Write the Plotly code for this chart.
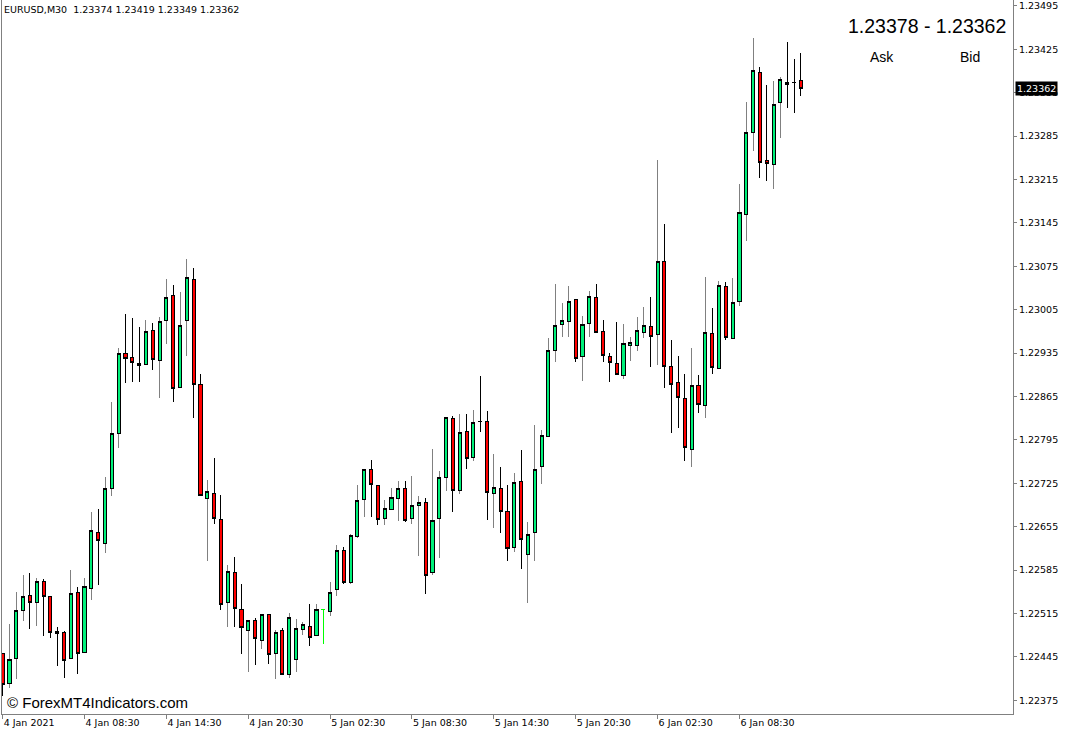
import plotly.graph_objects as go

symbol = "EURUSD,M30"
ask_price = 1.23378

open_ = [1.22450, 1.22402, 1.22443, 1.22520, 1.22544, 1.22533, 1.22567, 1.22542, 1.22486, 1.22484,
         1.22442, 1.22549, 1.22452, 1.22556, 1.22646, 1.22628, 1.22716, 1.22806, 1.22935, 1.22928,
         1.22919, 1.22916, 1.22972, 1.22923, 1.22987, 1.23028, 1.22880, 1.22987, 1.23054, 1.22885,
         1.22701, 1.22708, 1.22667, 1.22532, 1.22581, 1.22521, 1.22487, 1.22503, 1.22472, 1.22513,
         1.22451, 1.22488, 1.22417, 1.22441, 1.22490, 1.22494, 1.22479, 1.22521, 1.22518, 1.22553,
         1.22617, 1.22565, 1.22639, 1.22699, 1.22748, 1.22722, 1.22668, 1.22683, 1.22701, 1.22716,
         1.22668, 1.22690, 1.22694, 1.22581, 1.22668, 1.22734, 1.22829, 1.22714, 1.22809, 1.22766,
         1.22825, 1.22824, 1.22708, 1.22717, 1.22679, 1.22621, 1.22728, 1.22610, 1.22645, 1.22752,
         1.22800, 1.22939, 1.22981, 1.22986, 1.23022, 1.22929, 1.22983, 1.23025, 1.22970, 1.22930,
         1.22919, 1.22899, 1.22947, 1.22948, 1.22969, 1.22978, 1.22965, 1.23082, 1.22914, 1.22887,
         1.22862, 1.22780, 1.22882, 1.22850, 1.22966, 1.22910, 1.23042, 1.22958, 1.23019, 1.23158,
         1.23291, 1.23387, 1.23245, 1.23239, 1.23339, 1.23371, 1.23372, 1.23374]
high = [1.22452, 1.22498, 1.22550, 1.22577, 1.22580, 1.22572, 1.22571, 1.22544, 1.22494, 1.22486,
        1.22585, 1.22558, 1.22573, 1.22678, 1.22684, 1.22735, 1.22856, 1.22944, 1.22998, 1.22992,
        1.22977, 1.22988, 1.22984, 1.22993, 1.23054, 1.23045, 1.23034, 1.23086, 1.23073, 1.22901,
        1.22730, 1.22766, 1.22706, 1.22594, 1.22606, 1.22563, 1.22505, 1.22507, 1.22515, 1.22515,
        1.22488, 1.22492, 1.22516, 1.22506, 1.22502, 1.22530, 1.22531, 1.22523, 1.22566, 1.22625,
        1.22622, 1.22644, 1.22722, 1.22748, 1.22763, 1.22723, 1.22698, 1.22718, 1.22728, 1.22729,
        1.22737, 1.22705, 1.22701, 1.22781, 1.22745, 1.22832, 1.22833, 1.22836, 1.22836, 1.22844,
        1.22898, 1.22842, 1.22772, 1.22752, 1.22723, 1.22742, 1.22779, 1.22662, 1.22819, 1.22811,
        1.22960, 1.23046, 1.23015, 1.23043, 1.23023, 1.22995, 1.23035, 1.23046, 1.22988, 1.22935,
        1.22985, 1.22982, 1.22961, 1.22993, 1.23009, 1.23026, 1.23246, 1.23144, 1.22956, 1.22930,
        1.22902, 1.22943, 1.22900, 1.23058, 1.23008, 1.23052, 1.23050, 1.23056, 1.23208, 1.23340,
        1.23444, 1.23396, 1.23367, 1.23374, 1.23381, 1.23437, 1.23409, 1.23419]
low = [1.22382, 1.22395, 1.22410, 1.22503, 1.22490, 1.22495, 1.22479, 1.22475, 1.22431, 1.22411,
       1.22441, 1.22417, 1.22451, 1.22536, 1.22561, 1.22612, 1.22705, 1.22782, 1.22886, 1.22889,
       1.22889, 1.22915, 1.22907, 1.22863, 1.22949, 1.22856, 1.22879, 1.22930, 1.22830, 1.22704,
       1.22600, 1.22659, 1.22520, 1.22494, 1.22493, 1.22449, 1.22420, 1.22432, 1.22458, 1.22434,
       1.22409, 1.22416, 1.22411, 1.22421, 1.22480, 1.22463, 1.22478, 1.22466, 1.22511, 1.22544,
       1.22562, 1.22563, 1.22636, 1.22671, 1.22670, 1.22657, 1.22657, 1.22682, 1.22665, 1.22663,
       1.22660, 1.22608, 1.22546, 1.22577, 1.22605, 1.22713, 1.22679, 1.22707, 1.22748, 1.22761,
       1.22807, 1.22666, 1.22653, 1.22645, 1.22599, 1.22614, 1.22586, 1.22532, 1.22599, 1.22724,
       1.22799, 1.22920, 1.22961, 1.22961, 1.22920, 1.22890, 1.22961, 1.22968, 1.22920, 1.22889,
       1.22900, 1.22893, 1.22922, 1.22939, 1.22959, 1.22913, 1.22915, 1.22878, 1.22806, 1.22814,
       1.22761, 1.22752, 1.22838, 1.22830, 1.22901, 1.22909, 1.22956, 1.22957, 1.23011, 1.23115,
       1.23261, 1.23218, 1.23213, 1.23199, 1.23282, 1.23331, 1.23323, 1.23349]
close = [1.22401, 1.22441, 1.22520, 1.22543, 1.22533, 1.22567, 1.22543, 1.22484, 1.22482, 1.22440,
         1.22548, 1.22451, 1.22558, 1.22649, 1.22632, 1.22717, 1.22806, 1.22934, 1.22926, 1.22920,
         1.22915, 1.22970, 1.22925, 1.22986, 1.23024, 1.22878, 1.22980, 1.23057, 1.22884, 1.22705,
         1.22711, 1.22668, 1.22530, 1.22583, 1.22523, 1.22492, 1.22504, 1.22474, 1.22513, 1.22449,
         1.22485, 1.22417, 1.22509, 1.22491, 1.22497, 1.22476, 1.22521, 1.22521, 1.22549, 1.22616,
         1.22565, 1.22641, 1.22697, 1.22747, 1.22723, 1.22666, 1.22684, 1.22702, 1.22716, 1.22665,
         1.22690, 1.22694, 1.22577, 1.22665, 1.22735, 1.22831, 1.22714, 1.22807, 1.22765, 1.22823,
         1.22824, 1.22710, 1.22719, 1.22679, 1.22620, 1.22727, 1.22635, 1.22643, 1.22748, 1.22802,
         1.22939, 1.22980, 1.22987, 1.23019, 1.22927, 1.22981, 1.23027, 1.22969, 1.22931, 1.22920,
         1.22901, 1.22951, 1.22952, 1.22971, 1.22980, 1.22962, 1.23082, 1.22913, 1.22885, 1.22863,
         1.22783, 1.22882, 1.22852, 1.22968, 1.22911, 1.23044, 1.22960, 1.23016, 1.23162, 1.23290,
         1.23390, 1.23243, 1.23240, 1.23336, 1.23377, 1.23368, 1.23371, 1.23362]

time_label_bars = [0, 12, 24, 36, 48, 60, 72, 84, 96, 108]
time_labels = ["4 Jan 2021", "4 Jan 08:30", "4 Jan 14:30", "4 Jan 20:30", "5 Jan 02:30",
               "5 Jan 08:30", "5 Jan 14:30", "5 Jan 20:30", "6 Jan 02:30", "6 Jan 08:30"]
price_ticks = [1.22375, 1.22445, 1.22515, 1.22585, 1.22655, 1.22725, 1.22795, 1.22865, 1.22935,
               1.23005, 1.23075, 1.23145, 1.23215, 1.23285, 1.23355, 1.23425, 1.23495]

BULL_FILL = "#00F07A"
BULL_WICK = "#808080"
BODY_LINE = "#000000"
BEAR_FILL = "#FF0000"
BEAR_WICK = "#000000"
FRAME = "#808080"
SMALL_FONT = dict(family="DejaVu Sans", size=9.5, color="#000000")

bars = list(range(len(open_)))
flat = [i for i in bars if open_[i] == close[i]]


def pick(values):
    return [None if i in flat else values[i] for i in bars]


o2, h2, l2, c2 = pick(open_), pick(high), pick(low), pick(close)
body_hi = [None if v is None else max(v, w) for v, w in zip(o2, c2)]
body_lo = [None if v is None else min(v, w) for v, w in zip(o2, c2)]

fig = go.Figure()
# full candles: wicks in their direction colour
fig.add_trace(go.Candlestick(
    x=bars, open=o2, high=h2, low=l2, close=c2,
    increasing=dict(line=dict(color=BULL_WICK, width=1), fillcolor=BULL_FILL),
    decreasing=dict(line=dict(color=BEAR_WICK, width=1), fillcolor=BEAR_FILL),
    whiskerwidth=0, hoverinfo="skip", showlegend=False,
))
# bodies on top with a dark outline
fig.add_trace(go.Candlestick(
    x=bars, open=o2, high=body_hi, low=body_lo, close=c2,
    increasing=dict(line=dict(color=BODY_LINE, width=1), fillcolor=BULL_FILL),
    decreasing=dict(line=dict(color=BODY_LINE, width=1), fillcolor=BEAR_FILL),
    whiskerwidth=0, hoverinfo="skip", showlegend=False,
))

# flat (doji) bars drawn as a line
dx, dy = [], []
for i in flat:
    dx += [i, i, None, i - 0.3, i + 0.3, None]
    dy += [low[i], high[i], None, open_[i], open_[i], None]
if flat:
    fig.add_trace(go.Scatter(x=dx, y=dy, mode="lines", line=dict(color="#00FF00", width=1),
                             hoverinfo="skip", showlegend=False))

fig.update_layout(
    width=1068, height=735,
    margin=dict(l=2, r=55, t=0, b=21),
    paper_bgcolor="white", plot_bgcolor="white",
    showlegend=False, boxgap=0.35,
    xaxis=dict(
        range=[-0.1, 148.1], tickmode="array", tickvals=time_label_bars, ticktext=time_labels,
        ticks="outside", ticklen=4, tickcolor=FRAME, ticklabelposition="outside right",
        tickfont=SMALL_FONT, showgrid=False, zeroline=False, showline=True, linecolor=FRAME,
        linewidth=1, rangeslider=dict(visible=False), fixedrange=True, automargin=False,
    ),
    yaxis=dict(
        side="right", range=[1.223529, 1.235045], tickmode="array", tickvals=price_ticks,
        ticktext=[f"{v:.5f}" for v in price_ticks], ticks="outside", ticklen=3, tickcolor=FRAME,
        tickfont=SMALL_FONT, showgrid=False, zeroline=False, showline=True, mirror=True,
        linecolor=FRAME, linewidth=1, fixedrange=True, automargin=False,
    ),
)

nb = "\u00a0"
header = f"{symbol}{nb}{nb}{open_[-1]:.5f} {high[-1]:.5f} {low[-1]:.5f} {close[-1]:.5f}"
fig.add_annotation(xref="paper", yref="paper", x=0, y=0.986, xanchor="left", yanchor="middle",
                   text=header, showarrow=False, font=SMALL_FONT, xshift=0)

fig.add_annotation(xref="paper", yref="paper", x=0.995, y=0.9636, xanchor="right", yanchor="middle",
                   text=f"{ask_price:.5f} - {close[-1]:.5f}", showarrow=False,
                   font=dict(family="Liberation Sans", size=19.5, color="#000000"))
fig.add_annotation(xref="paper", yref="paper", x=0.8704, y=0.920, xanchor="center", yanchor="middle",
                   text="Ask", showarrow=False,
                   font=dict(family="Liberation Sans", size=14, color="#000000"))
fig.add_annotation(xref="paper", yref="paper", x=0.9575, y=0.920, xanchor="center", yanchor="middle",
                   text="Bid", showarrow=False,
                   font=dict(family="Liberation Sans", size=14, color="#000000"))

fig.add_annotation(xref="paper", yref="y", x=1, y=close[-1], xanchor="left", yanchor="middle",
                   xshift=2, text=f"{close[-1]:.5f}", showarrow=False, bgcolor="#000000",
                   borderpad=1, font=dict(family="DejaVu Sans", size=9.5, color="#FFFFFF"))

fig.add_annotation(xref="paper", yref="paper", x=0, y=0.0168, xanchor="left", yanchor="middle",
                   xshift=3, text="\u00a9 ForexMT4Indicators.com", showarrow=False,
                   font=dict(family="Liberation Sans", size=15, color="#000000"))

post = (
    "document.body.style.margin='0';"
    "document.body.style.overflow='hidden';"
    "document.querySelectorAll('.boxlayer path, .scatterlayer path').forEach(function(p){"
    "p.style.shapeRendering='crispEdges';});"
)
fig.write_html("out.html", post_script=post, config={"displayModeBar": False})
